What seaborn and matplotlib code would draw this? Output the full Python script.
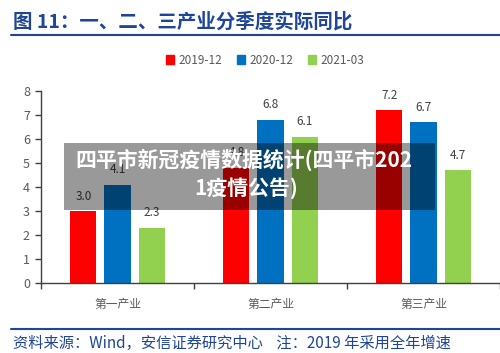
import matplotlib
matplotlib.use("Agg")
import matplotlib.pyplot as plt
import seaborn as sns
import pandas as pd
from matplotlib.patches import Rectangle
from matplotlib.lines import Line2D

categories = ["第一产业", "第二产业", "第三产业"]
series_names = ["2019-12", "2020-12", "2021-03"]
v_2019_12 = [3.0, 4.8, 7.2]
v_2020_12 = [4.1, 6.8, 6.7]
v_2021_03 = [2.3, 6.1, 4.7]
colors = ["#FF0000", "#0070C0", "#92D050"]
yticks = [0, 1, 2, 3, 4, 5, 6, 7, 8]

title = "图 11：一、二、三产业分季度实际同比"
footer = "资料来源：Wind，安信证券研究中心    注：2019 年采用全年增速"
overlay1 = "四平市新冠疫情数据统计(四平市202"
overlay2 = "1疫情公告)"

df = pd.DataFrame({
    "cat": categories * 3,
    "series": [s for s in series_names for _ in categories],
    "val": v_2019_12 + v_2020_12 + v_2021_03,
})

sns.set_theme(style="white")
plt.rcParams['font.family'] = ['Noto Sans CJK SC', 'DejaVu Sans']

W, H = 500, 353
fig = plt.figure(figsize=(W / 100, H / 100), dpi=100)
ax = fig.add_axes([41 / W, (H - 283) / H, 459 / W, 192 / H])

sns.barplot(data=df, x="cat", y="val", hue="series", palette=colors,
            width=0.667, gap=0.235, ax=ax, legend=False, saturation=1,
            edgecolor="none")

for cont in ax.containers:
    for b in cont:
        h = b.get_height()
        ax.annotate(f"{h:.1f}", (b.get_x() + b.get_width() / 2, h),
                    xytext=(0, 6), textcoords="offset points",
                    ha="center", va="bottom", fontsize=8.5, color="#404040")

ax.set_xlim(-0.5, 2.5)
ax.set_ylim(0, 8)
ax.set_yticks(yticks)
ax.set_xlabel("")
ax.set_ylabel("")
for s in ["top", "right"]:
    ax.spines[s].set_visible(False)
for s in ["left", "bottom"]:
    ax.spines[s].set_color("#404040")
    ax.spines[s].set_linewidth(1.0)
ax.tick_params(axis="y", left=True, length=4, width=1, color="#404040",
               labelsize=9, labelcolor="#595959", pad=4)
ax.tick_params(axis="x", bottom=False, labelsize=8.5, labelcolor="#595959", pad=5)
ax.set_xticks([-0.5, 0.5, 1.5, 2.5], minor=True)
ax.tick_params(axis="x", which="minor", bottom=True, length=4, width=1,
               color="#404040")

# legend
handles = [Rectangle((0, 0), 1, 1, color=c) for c in colors]
fig.legend(handles, series_names, loc="center", bbox_to_anchor=(0.53, 1 - 60 / H),
           ncol=3, frameon=False, fontsize=8.5, handlelength=0.7, handleheight=0.7,
           columnspacing=1.2, handletextpad=0.4, labelcolor="#595959")

# title and lines
navy = "#1F4597"
fig.text(13 / W, 1 - 22 / H, title, fontsize=14, fontweight="bold", color=navy,
         va="center", ha="left")
fig.add_artist(Line2D([11 / W, 1.0], [1 - 35 / H] * 2, color=navy, lw=1.5))
fig.add_artist(Line2D([11 / W, 1.0], [1 - 329 / H] * 2, color=navy, lw=1.5))
fig.text(13 / W, 1 - 343 / H, footer, fontsize=11, color=navy,
         va="center", ha="left", style="italic")

# overlay banner
fig.add_artist(Rectangle((64 / W, 1 - 210 / H), 371 / W, 67 / H,
                         transform=fig.transFigure, facecolor="black",
                         alpha=0.4, edgecolor="none", zorder=5))
fig.text(244 / W, 1 - 160 / H, overlay1, fontsize=15, fontweight="bold",
         color="white", ha="center", va="center", zorder=6)
fig.text(246 / W, 1 - 188 / H, overlay2, fontsize=15, fontweight="bold",
         color="white", ha="center", va="center", zorder=6)

fig.savefig("out.png", dpi=100)
